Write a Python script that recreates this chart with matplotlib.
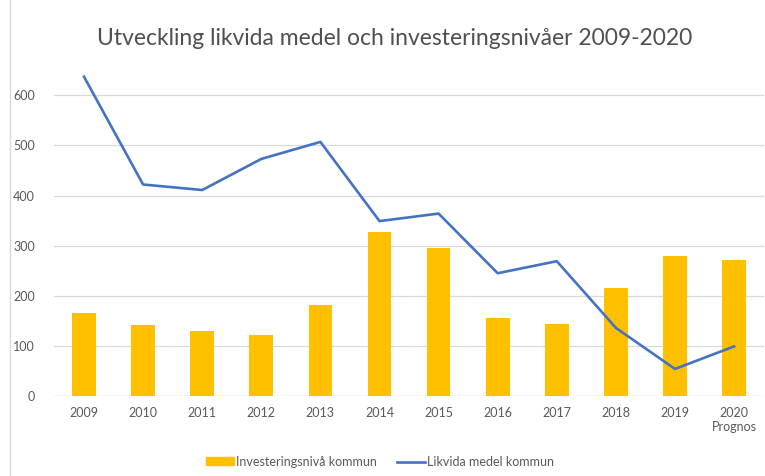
import numpy as np
import matplotlib.pyplot as plt
from matplotlib.lines import Line2D

# Data
years = ['2009', '2010', '2011', '2012', '2013', '2014', '2015', '2016',
         '2017', '2018', '2019', '2020\nPrognos']
investering = [165, 141, 129, 121, 182, 328, 296, 156, 143, 216, 280, 271]
likvida = [637, 422, 411, 473, 507, 349, 364, 245, 269, 136, 54, 99]

plt.rcParams['font.family'] = ['Lato', 'DejaVu Sans']

fig = plt.figure(figsize=(7.65, 4.76), dpi=100)
ax = fig.add_axes([0.0712, 0.168, 0.927, 0.695])

x = np.arange(len(years))
ax.bar(x, investering, width=0.4, color='#FFC000', zorder=2,
       label='Investeringsnivå kommun')
ax.plot(x, likvida, color='#4472C4', linewidth=1.9, zorder=3,
        label='Likvida medel kommun', clip_on=False)

ax.set_xlim(-0.5, len(years) - 0.5)
ax.set_ylim(0, 660)
ax.set_yticks(range(0, 601, 100))
ax.set_xticks(x)
ax.set_xticklabels(years)
ax.grid(axis='y', color='#D9D9D9', linewidth=0.9, zorder=0)
ax.tick_params(length=0, labelsize=9, colors='#595959', pad=8)
ax.tick_params(axis='y', pad=14)
for s in ax.spines.values():
    s.set_visible(False)
ax.axhline(0, color='#D9D9D9', linewidth=0.9, zorder=1)

fig.text(0.516, 0.92, 'Utveckling likvida medel och investeringsnivåer 2009-2020',
         ha='center', va='center', fontsize=16.5, color='#505050')

# chart border on the left
fig.add_artist(Line2D([0.013, 0.013], [0, 1], color='#D9D9D9', linewidth=1))

handles = [plt.Rectangle((0, 0), 1, 1, color='#FFC000'),
           Line2D([0], [0], color='#4472C4', linewidth=1.9)]
fig.legend(handles, ['Investeringsnivå kommun', 'Likvida medel kommun'],
           loc='center', bbox_to_anchor=(0.497, 0.03), ncol=2, frameon=False,
           fontsize=9, handlelength=2.2, handleheight=0.6, handletextpad=0.2,
           columnspacing=1.6, labelcolor='#595959')

fig.savefig('out.png', dpi=100)
